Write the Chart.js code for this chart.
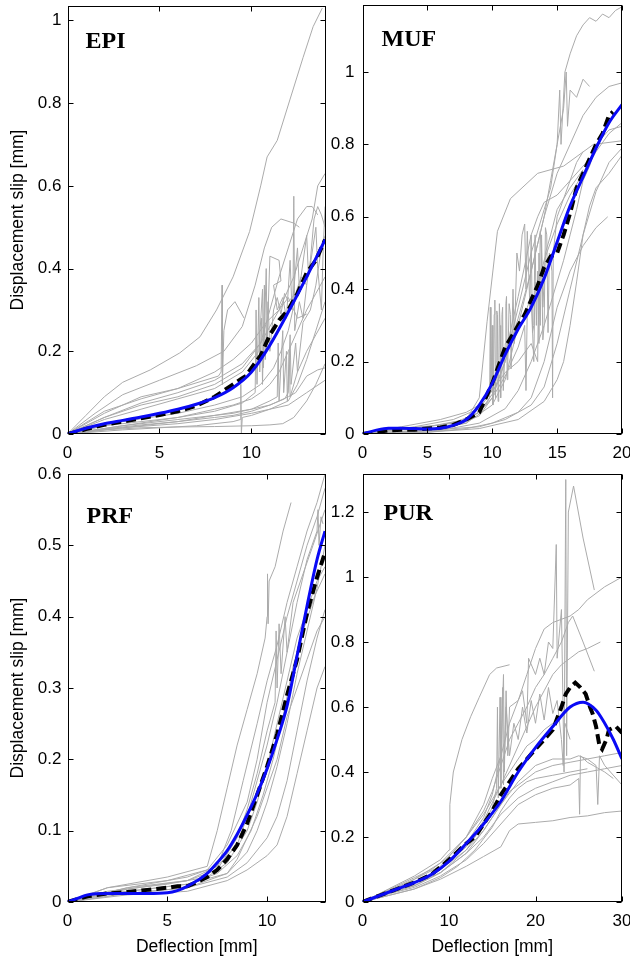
<!DOCTYPE html>
<html><head><meta charset="utf-8">
<script src="https://cdn.jsdelivr.net/npm/chart.js@4/dist/chart.umd.min.js"></script>
<style>
html,body{margin:0;padding:0;background:#fff;}
#wrap{position:relative;width:630px;height:962px;overflow:hidden;}
canvas{position:absolute;left:0;top:0;}
</style></head>
<body><div id="wrap">
<canvas id="c0" width="630" height="962"></canvas>
<canvas id="c1" width="630" height="962"></canvas>
<canvas id="c2" width="630" height="962"></canvas>
<canvas id="c3" width="630" height="962"></canvas>
</div>
<script>
// ---------------- DATA ----------------
const panelNames = ['EPI','MUF','PRF','PUR'];
const xTitle = 'Deflection [mm]';
const yTitle = 'Displacement slip [mm]';

const epiXTicks = [0,5,10];
const epiYTicks = [0,0.2,0.4,0.6,0.8,1];
const mufXTicks = [0,5,10,15,20];
const mufYTicks = [0,0.2,0.4,0.6,0.8,1];
const prfXTicks = [0,5,10];
const prfYTicks = [0,0.1,0.2,0.3,0.4,0.5,0.6];
const purXTicks = [0,10,20,30];
const purYTicks = [0,0.2,0.4,0.6,0.8,1,1.2];

// EPI specimens
const epi1 = [[0,0],[1,0.045],[2,0.09],[3,0.125],[4.5,0.155],[6.1,0.196],[7.2,0.235],[8.1,0.3],[9,0.38],[9.9,0.49],[10.5,0.6],[10.85,0.67],[11.4,0.71],[12.1,0.81],[12.8,0.91],[13.35,0.985],[13.85,1.03]];
const epi2 = [[0,0],[1.5,0.05],[3,0.095],[5,0.13],[7,0.165],[8.5,0.2],[9.5,0.26],[10.2,0.36],[10.7,0.45],[11.1,0.5],[11.6,0.52],[12.3,0.51],[12.6,0.5]];
const epi3 = [[0,0],[2,0.05],[4,0.09],[6,0.11],[8.2,0.14],[8.35,0.15],[8.4,0.36],[8.42,0.12],[8.5,0.25],[8.7,0.3],[9.1,0.32],[9.6,0.28]];
const epi4 = [[0,0],[2,0.04],[4,0.075],[6,0.1],[8,0.13],[9.5,0.17],[10.5,0.22],[11,0.3],[11.5,0.38],[12,0.45],[12.5,0.52],[13,0.55],[13.3,0.55],[13.6,0.53]];
const epi5 = [[0,0],[2,0.035],[4,0.06],[6,0.085],[8,0.11],[9.5,0.15],[10.4,0.2],[10.6,0.35],[10.65,0.16],[10.8,0.4],[10.85,0.22],[11,0.43],[11.5,0.42],[11.6,0.37],[11.2,0.36],[11.4,0.3],[11.7,0.33],[11.9,0.28],[12.1,0.42],[12.2,0.3],[12.5,0.45],[12.6,0.35],[13,0.48],[13.1,0.38],[13.5,0.5],[13.6,0.4],[13.8,0.3],[13.9,0.45],[14,0.55]];
const epi6 = [[0,0],[3,0.03],[6,0.05],[8,0.07],[9.5,0.09],[10.5,0.12],[11.2,0.16],[11.6,0.2],[12,0.25],[12.25,0.3],[12.3,0.575],[12.35,0.25],[12.6,0.32],[12.8,0.28],[13,0.36],[13.2,0.42],[13.4,0.52],[13.6,0.55],[13.8,0.53],[14,0.5]];
const epi7 = [[0,0],[3,0.02],[6,0.04],[8,0.055],[9.5,0.075],[10.2,0.1],[10.25,0.3],[10.3,0.12],[10.4,0.33],[10.45,0.15],[10.55,0.28],[10.6,0.12],[10.7,0.36],[10.75,0.18],[10.9,0.32],[11,0.2],[11.2,0.3],[11.4,0.33],[11.6,0.29],[11.8,0.34],[12,0.32],[12.4,0.34],[12.7,0.38],[13,0.36]];
const epi8 = [[0,0],[3,0.015],[6,0.03],[8,0.045],[10,0.06],[11,0.08],[11.4,0.09],[11.45,0.22],[11.5,0.08],[11.7,0.25],[11.75,0.1],[11.9,0.2],[11.95,0.08],[12.1,0.24],[12.15,0.12],[12.4,0.22],[12.5,0.15],[12.8,0.27],[13.2,0.3],[13.5,0.36],[13.8,0.45],[14,0.48]];
const epi9 = [[0,0],[3,0.015],[6,0.025],[8,0.035],[10,0.05],[11,0.06],[12,0.08],[12.5,0.12],[13,0.18],[13.5,0.25],[14,0.32]];
const epi10 = [[0,0],[2,0.01],[4,0.015],[6,0.017],[8,0.018],[10,0.02],[11,0.022],[11.7,0.025],[12.3,0.04],[13,0.08],[13.5,0.12],[14,0.17]];
const epi11 = [[0,0],[3,0.02],[6,0.035],[9,0.05],[11,0.07],[12,0.09],[12.4,0.1],[13,0.14],[13.6,0.155],[14,0.16]];
const epi12 = [[0,0],[3,0.01],[5,0.015],[7,0.02],[9,0.03],[9.4,0.035],[9.42,0.12],[9.45,0.0],[9.5,0.04],[10,0.045],[11,0.06],[12,0.07],[13,0.1],[14,0.13]];
const epi13 = [[0,0],[2,0.055],[4,0.085],[6,0.11],[8,0.15],[9,0.18],[10,0.22],[10.8,0.27],[11.5,0.3],[12,0.33],[12.5,0.28],[13,0.29]];
const epi14 = [[0,0],[2,0.04],[4,0.07],[6,0.09],[8,0.12],[9.5,0.16],[10.5,0.22],[11.5,0.3],[12.3,0.38],[12.8,0.45],[13.3,0.52],[13.6,0.6],[14,0.63]];
const epi15 = [[0,0],[2,0.012],[4,0.022],[6,0.03],[8,0.04],[9,0.045],[10,0.055],[11,0.07],[11.8,0.085],[12,0.1],[12.05,0.2],[12.1,0.09],[12.5,0.15],[13,0.2],[13.5,0.24],[14,0.28]];
const epi16 = [[0,0],[2,0.02],[4,0.03],[6,0.04],[7,0.05],[8,0.06],[9,0.07],[10,0.085],[10.5,0.1],[11,0.12],[11.5,0.15],[12,0.2],[12.5,0.25],[13,0.3],[13.5,0.34],[14,0.38]];
const epiMean = [[0,0],[0.5,0.005],[1,0.012],[2,0.022],[3,0.03],[4,0.038],[5,0.046],[6,0.055],[7,0.068],[8,0.09],[8.5,0.105],[9,0.12],[9.5,0.135],[9.7,0.14],[10,0.16],[10.5,0.19],[11,0.24],[11.5,0.275],[12,0.3],[12.5,0.34],[13,0.39],[13.5,0.42],[14,0.47]];
const epiFit = [[0,0],[1,0.014],[2,0.025],[3,0.033],[4,0.041],[5,0.05],[6,0.06],[7,0.072],[8,0.088],[9,0.112],[10,0.15],[11,0.215],[12,0.295],[13,0.38],[14,0.47]];

// MUF specimens
const muf1 = [[0,0],[4,0.01],[7,0.02],[9,0.05],[10,0.1],[11,0.2],[12,0.35],[13,0.5],[14,0.62],[14.5,0.68],[15,0.8],[15.2,0.95],[15.3,0.8],[15.6,1.0],[16,1.05],[16.5,1.1],[17,1.13],[17.5,1.15],[18,1.14],[18.5,1.16],[19,1.15],[19.5,1.17],[20,1.18]];
const muf2 = [[0,0],[5,0.01],[8,0.03],[10,0.08],[11,0.15],[12,0.3],[13,0.45],[14,0.6],[15,0.72],[16,0.8],[17,0.88],[18,0.93],[19,0.96],[20,0.97]];
const muf3 = [[0,0],[5,0.02],[8,0.04],[9,0.1],[9.6,0.31],[10.4,0.56],[11.4,0.65],[13.5,0.72],[15.5,0.74],[17.8,0.8],[20,0.81]];
const muf4 = [[0,0],[5,0.005],[8,0.015],[10,0.03],[12,0.06],[13,0.1],[14,0.2],[15,0.35],[16,0.45],[17,0.52],[18,0.57],[18.9,0.6]];
const muf5 = [[0,0],[5,0.01],[9,0.02],[11,0.04],[13,0.08],[14,0.13],[15,0.25],[16,0.4],[17,0.55],[18,0.67],[19,0.75],[20,0.79]];
const muf6 = [[0,0],[5,0.005],[9,0.015],[12,0.04],[14,0.09],[15,0.15],[15.5,0.2],[16,0.3],[16.5,0.42],[17,0.55],[17.5,0.63],[18,0.68],[19,0.72],[20,0.77]];
const muf7 = [[0,0],[5,0.01],[8,0.03],[9.5,0.08],[9.8,0.1],[9.85,0.35],[9.9,0.12],[10,0.3],[10.05,0.08],[10.1,0.15],[10.15,0.33],[10.2,0.37],[10.25,0.1],[10.3,0.2],[10.35,0.34],[10.4,0.33],[10.45,0.09],[10.5,0.15],[10.55,0.36],[10.6,0.3],[10.65,0.1],[10.7,0.22],[10.75,0.33],[10.8,0.35],[10.85,0.12],[11,0.25],[11.05,0.36],[11.1,0.38],[11.15,0.15],[11.2,0.2],[11.3,0.36],[11.4,0.33],[11.45,0.18],[11.6,0.4],[11.7,0.25],[11.9,0.5],[12.1,0.45],[12.3,0.55],[12.5,0.58],[12.6,0.4],[12.7,0.56],[12.9,0.35],[13,0.55],[13.1,0.28],[13.2,0.3],[13.3,0.55],[13.4,0.3],[13.5,0.45],[13.6,0.25],[13.7,0.56],[13.8,0.5],[13.9,0.26],[14,0.3],[14.1,0.57],[14.2,0.55],[14.3,0.28],[14.4,0.5],[14.6,0.45],[14.65,0.1],[14.7,0.5],[15,0.6],[15.5,0.65],[16,0.7],[16.5,0.75],[17,0.78]];
const muf8 = [[0,0],[5,0.02],[7,0.03],[9,0.06],[10,0.11],[11,0.2],[12,0.32],[13,0.45],[14,0.6],[14.5,0.7],[15,0.8],[15.5,0.9],[15.7,1.0],[15.8,0.85],[16,0.95],[16.5,0.93],[17,0.98],[17.5,0.96]];
const muf9 = [[0,0],[4,0.02],[7,0.04],[9,0.07],[10,0.12],[11,0.22],[12,0.38],[13,0.55],[13.5,0.6],[14,0.64],[15,0.66],[16,0.7],[17,0.74],[18,0.78]];
const muf10 = [[0,0],[6,0.01],[9,0.03],[11,0.07],[12,0.12],[13,0.2],[14,0.3],[15,0.42],[15.5,0.48],[16,0.55],[16.5,0.62],[17,0.7],[17.5,0.74],[18,0.8],[19,0.84],[20,0.85]];
const muf11 = [[0,0],[3,0.02],[6,0.04],[8,0.06],[9,0.08],[10,0.12],[11,0.17],[12,0.2],[13,0.25],[13.5,0.2],[13.6,0.5],[13.7,0.3],[13.8,0.55],[13.9,0.35],[14.1,0.5],[14.5,0.55],[15,0.62],[16,0.68],[17,0.73]];
const muf12 = [[0,0],[3,0.015],[6,0.025],[8,0.04],[9,0.06],[10,0.1],[11,0.16],[12,0.24],[12.5,0.3],[12.6,0.12],[12.7,0.35],[13,0.38],[13.2,0.2],[13.3,0.42],[13.5,0.4],[14,0.48],[15,0.58],[16,0.66],[17,0.72],[18,0.78],[19,0.83],[20,0.86]];
const mufMean = [[0,0],[1,0.005],[2,0.01],[3,0.012],[4,0.012],[5,0.015],[6,0.018],[7,0.025],[8,0.04],[9,0.06],[10,0.14],[10.5,0.19],[11,0.24],[11.5,0.27],[12,0.3],[12.5,0.33],[13,0.37],[13.5,0.41],[14,0.46],[14.5,0.49],[15,0.5],[15.5,0.55],[16,0.61],[16.5,0.68],[17,0.72],[17.5,0.76],[18,0.8],[18.5,0.83],[19,0.88],[19.3,0.89]];
const mufFit = [[0,0],[1,0.01],[2,0.016],[3,0.016],[4,0.015],[5,0.014],[6,0.016],[7,0.024],[8,0.04],[9,0.08],[10,0.14],[11,0.22],[12,0.29],[13,0.35],[14,0.43],[15,0.53],[16,0.63],[17,0.71],[18,0.79],[19,0.86],[20,0.91]];

// PRF specimens
const prf1 = [[0,0],[2,0.02],[5,0.035],[7,0.05],[7.5,0.1],[8,0.16],[8.5,0.22],[9,0.27],[9.5,0.32],[9.9,0.37],[10,0.4],[10.02,0.46],[10.05,0.39],[10.1,0.45],[10.4,0.47],[10.8,0.52],[11.2,0.56]];
const prf2 = [[0,0],[2,0.02],[5,0.03],[7,0.045],[8,0.08],[9,0.14],[9.5,0.2],[10,0.28],[10.5,0.34],[11,0.4],[11.5,0.45],[12,0.5],[12.5,0.54],[12.9,0.58]];
const prf3 = [[0,0],[3,0.02],[6,0.03],[7.5,0.05],[8.5,0.08],[9,0.12],[9.5,0.17],[10,0.22],[10.5,0.28],[11,0.35],[11.5,0.42],[12,0.48],[12.5,0.52],[12.55,0.55],[12.6,0.5],[12.7,0.54],[12.8,0.53]];
const prf4 = [[0,0],[3,0.015],[6,0.025],[8,0.04],[9,0.07],[9.5,0.1],[10,0.14],[10.5,0.19],[11,0.25],[11.5,0.32],[12,0.38],[12.5,0.44],[12.9,0.5]];
const prf5 = [[0,0],[3,0.012],[6,0.02],[8,0.035],[9,0.055],[10,0.09],[10.5,0.12],[11,0.17],[11.5,0.24],[12,0.31],[12.5,0.37],[12.9,0.41]];
const prf6 = [[0,0],[3,0.01],[6,0.015],[8,0.03],[9,0.045],[10,0.065],[10.5,0.08],[11,0.12],[11.5,0.18],[12,0.24],[12.5,0.3],[12.9,0.33]];
const prf7 = [[0,0],[3,0.018],[6,0.03],[7.5,0.045],[8.5,0.09],[9,0.13],[9.5,0.18],[10,0.24],[10.4,0.28],[10.45,0.38],[10.5,0.3],[10.6,0.39],[10.7,0.32],[10.9,0.4],[11,0.35],[11.3,0.42],[11.8,0.46],[12.3,0.5],[12.9,0.55]];
const prf8 = [[0,0],[2,0.015],[5,0.025],[7,0.035],[8,0.055],[9,0.1],[9.5,0.14],[10,0.19],[10.5,0.25],[11,0.31],[11.5,0.37],[12,0.41],[12.5,0.45],[12.9,0.47]];
const prf9 = [[0,0],[3,0.012],[6,0.02],[8,0.04],[8.5,0.06],[9,0.09],[9.5,0.12],[10,0.16],[10.5,0.2],[11,0.26],[11.5,0.3],[12,0.34],[12.5,0.38],[12.9,0.4]];
const prf10 = [[0,0],[3,0.02],[6,0.035],[7.5,0.05],[8.2,0.1],[8.8,0.17],[9.5,0.25],[10,0.31],[10.5,0.36],[11,0.42],[11.5,0.47],[12,0.52],[12.5,0.56],[12.9,0.6]];
const prf11 = [[0,0],[2,0.012],[4,0.018],[6,0.025],[7.5,0.04],[8.5,0.065],[9.2,0.1],[9.8,0.15],[10.3,0.2],[10.8,0.26],[11.3,0.33],[11.8,0.38],[12.4,0.43],[12.9,0.46]];
const prfMean = [[0,0],[1,0.008],[2,0.012],[3,0.014],[4,0.017],[5,0.02],[5.5,0.022],[6,0.022],[6.5,0.028],[7,0.035],[7.5,0.045],[8,0.06],[8.5,0.08],[9,0.11],[9.5,0.15],[10,0.19],[10.5,0.235],[11,0.29],[11.5,0.34],[12,0.405],[12.5,0.455],[12.9,0.49]];
const prfFit = [[0,0],[0.5,0.005],[1,0.01],[2,0.012],[3,0.012],[4,0.012],[5,0.013],[5.5,0.016],[6,0.022],[6.5,0.03],[7,0.04],[7.5,0.055],[8,0.072],[8.5,0.095],[9,0.122],[9.5,0.152],[10,0.187],[10.5,0.228],[11,0.275],[11.5,0.345],[12,0.415],[12.5,0.48],[12.9,0.52]];

// PUR specimens
const pur1 = [[0,0],[3,0.04],[6,0.08],[9,0.13],[10,0.16],[10.1,0.3],[10.5,0.4],[11.5,0.5],[12.5,0.57],[13.5,0.63],[14.7,0.7],[15.5,0.72],[17,0.73]];
const pur2 = [[0,0],[3,0.03],[6,0.07],[9,0.11],[12,0.2],[14,0.3],[15,0.38],[16,0.45],[16.3,0.7],[16.4,0.4],[16.6,0.65],[16.8,0.45],[17,0.6],[18,0.62],[18.5,0.65],[19,0.55],[19.2,0.75],[20,0.7],[20.5,0.75],[21,0.7],[21.5,0.8],[22,0.78],[22.4,1.1],[22.5,0.75],[23,0.9],[23.3,0.4],[23.5,1.3],[23.6,0.45],[23.8,1.2],[24.4,1.28],[25.5,1.12],[26.8,0.96]];
const pur3 = [[0,0],[3,0.03],[6,0.06],[9,0.1],[12,0.18],[14,0.26],[15,0.33],[16,0.45],[17,0.55],[18,0.62],[19,0.7],[20,0.78],[21,0.84],[22,0.86],[23,0.87],[24,0.88],[25,0.9],[26,0.93],[28,0.97],[30,1.0]];
const pur4 = [[0,0],[3,0.03],[6,0.06],[9,0.1],[12,0.17],[14,0.25],[16,0.36],[18,0.48],[20,0.6],[21,0.65],[22,0.7],[23,0.73],[24,0.75],[25,0.77],[26,0.78],[27.5,0.8]];
const pur5 = [[0,0],[3,0.02],[6,0.04],[9,0.07],[12,0.11],[14,0.14],[16,0.17],[17,0.22],[18,0.24],[20,0.245],[22,0.25],[24,0.26],[26,0.265],[28,0.275],[30,0.28]];
const pur6 = [[0,0],[3,0.025],[6,0.05],[9,0.09],[12,0.15],[14,0.2],[16,0.27],[18,0.32],[20,0.35],[22,0.37],[24,0.39],[26,0.4],[28,0.41],[30,0.42]];
const pur7 = [[0,0],[3,0.03],[6,0.06],[9,0.1],[12,0.16],[14,0.22],[16,0.3],[17,0.34],[18,0.36],[20,0.4],[22,0.42],[24,0.43],[26,0.44],[28,0.45],[30,0.46]];
const pur8 = [[0,0],[3,0.03],[6,0.05],[9,0.09],[12,0.15],[14,0.22],[16,0.3],[18,0.37],[20,0.42],[22,0.44],[24,0.44],[25,0.45],[26,0.44],[27,0.42],[27.2,0.3],[27.4,0.45],[28,0.42],[30,0.36]];
const pur9 = [[0,0],[3,0.03],[6,0.05],[9,0.09],[12,0.16],[14,0.24],[15,0.29],[15.5,0.35],[15.6,0.6],[15.7,0.32],[15.9,0.63],[16,0.35],[16.2,0.66],[16.3,0.36],[16.6,0.6],[17,0.45],[17.5,0.55],[18,0.5],[18.5,0.6],[19,0.52],[19.5,0.62],[20,0.55],[20.5,0.64],[21,0.56],[21.5,0.66],[22,0.58],[22.5,0.62],[23,0.5],[23.2,0.42],[23.4,0.55],[24,0.5]];
const pur10 = [[0,0],[3,0.035],[6,0.07],[9,0.12],[12,0.2],[14,0.28],[15,0.34],[16,0.42],[17,0.5],[18,0.55],[19,0.6],[20,0.66],[21,0.7],[22,0.75],[23,0.8],[23.8,0.86],[24.3,0.88],[25.5,0.8],[26.8,0.71]];
const pur11 = [[0,0],[3,0.025],[6,0.045],[9,0.08],[12,0.13],[14,0.18],[16,0.24],[18,0.3],[20,0.33],[22,0.35],[24,0.36],[25,0.38],[25.1,0.27],[25.2,0.45],[26,0.43],[28,0.4],[29,0.38]];
const pur12 = [[0,0],[3,0.02],[6,0.04],[9,0.075],[11,0.11],[13,0.16],[15,0.23],[16,0.28],[17,0.32],[18,0.35],[19,0.37],[20,0.38],[22,0.39],[24,0.4],[26,0.41]];
const pur13 = [[0,0],[2,0.025],[4,0.05],[6,0.075],[8,0.1],[10,0.14],[12,0.2],[14,0.27],[16,0.36],[17,0.4],[18,0.44],[19,0.48],[20,0.5],[21,0.53],[22,0.55]];
const purMean = [[0,0],[2,0.02],[4,0.04],[6,0.06],[8,0.085],[10,0.13],[12,0.18],[13,0.2],[14,0.24],[15,0.28],[16,0.33],[17,0.37],[18,0.41],[19,0.44],[20,0.47],[21,0.5],[22,0.53],[23,0.6],[23.5,0.64],[24,0.66],[24.6,0.675],[25.2,0.66],[25.8,0.64],[26.3,0.6],[26.6,0.58],[27,0.54],[27.4,0.48],[27.7,0.47],[28.2,0.5],[28.5,0.53],[29.3,0.54],[30,0.52]];
const purFit = [[0,0],[2,0.02],[4,0.04],[6,0.06],[8,0.085],[10,0.125],[12,0.18],[14,0.24],[16,0.31],[18,0.4],[20,0.475],[22,0.54],[24,0.6],[25.5,0.615],[27,0.59],[28,0.55],[29,0.5],[30,0.44]];

// ---------------- PANELS ----------------
const panels = [
  {name: panelNames[0], gray:[epi1,epi2,epi3,epi4,epi5,epi6,epi7,epi8,epi9,epi10,epi11,epi12,epi13,epi14,epi15,epi16], mean:epiMean, fit:epiFit,
   xmax:14.05, ymax:1.035, xt:epiXTicks, yt:epiYTicks, area:{l:67.5,t:6,r:326,b:434}, yTitle:true, xTitle:false, lab:[18,42], ypad:6},
  {name: panelNames[1], gray:[muf1,muf2,muf3,muf4,muf5,muf6,muf7,muf8,muf9,muf10,muf11,muf12], mean:mufMean, fit:mufFit,
   xmax:20, ymax:1.185, xt:mufXTicks, yt:mufYTicks, area:{l:362.5,t:5,r:622,b:434}, yTitle:false, xTitle:false, lab:[19,41], ypad:8},
  {name: panelNames[2], gray:[prf1,prf2,prf3,prf4,prf5,prf6,prf7,prf8,prf9,prf10,prf11], mean:prfMean, fit:prfFit,
   xmax:12.95, ymax:0.6, xt:prfXTicks, yt:prfYTicks, area:{l:67.5,t:474,r:326,b:902}, yTitle:true, xTitle:true, lab:[19,49], ypad:6},
  {name: panelNames[3], gray:[pur1,pur2,pur3,pur4,pur5,pur6,pur7,pur8,pur9,pur10,pur11,pur12,pur13], mean:purMean, fit:purFit,
   xmax:30, ymax:1.317, xt:purXTicks, yt:purYTicks, area:{l:362.5,t:474,r:622,b:902}, yTitle:false, xTitle:true, lab:[21,46], ypad:8}
];

const toXY = arr => arr.map(p => ({x:p[0], y:p[1]}));
const fmt = v => String(+(+v).toFixed(2));
const tickFont = {family:'"Liberation Sans", Arial, sans-serif', size:17};
const titleFont = {family:'"Liberation Sans", Arial, sans-serif', size:17.5};
const W = 630, H = 962, YW = 60;

const boxPlugin = {
  id:'box',
  afterDraw(chart, args, opts) {
    const ctx = chart.ctx, a = chart.chartArea;
    const xs = chart.scales.x, ys = chart.scales.y;
    ctx.save();
    ctx.strokeStyle = '#000'; ctx.lineWidth = 1;
    const L = Math.round(a.left)+0.5, R = Math.round(a.right)-0.5, T = Math.round(a.top)+0.5, B = Math.round(a.bottom)-0.5;
    ctx.strokeRect(L, T, R-L, B-T);
    const tl = 5;
    ctx.beginPath();
    for (const t of xs.ticks) {
      const px = Math.round(xs.getPixelForValue(t.value))+0.5;
      ctx.moveTo(px, B); ctx.lineTo(px, B-tl);
      ctx.moveTo(px, T); ctx.lineTo(px, T+tl);
    }
    for (const t of ys.ticks) {
      const py = Math.round(ys.getPixelForValue(t.value))+0.5;
      ctx.moveTo(L, py); ctx.lineTo(L+tl, py);
      ctx.moveTo(R, py); ctx.lineTo(R-tl, py);
    }
    ctx.stroke();
    ctx.fillStyle = '#000';
    ctx.font = 'bold 24px "Liberation Serif", "Times New Roman", serif';
    ctx.textBaseline = 'alphabetic';
    ctx.fillText(opts.text, a.left + opts.dx, a.top + opts.dy);
    ctx.restore();
  }
};

panels.forEach((p, i) => {
  const xH = p.xTitle ? 56 : 30;
  const datasets = [];
  datasets.push({data: toXY(p.fit), borderColor:'#0a0af5', borderWidth:3, pointRadius:0, tension:0.4, cubicInterpolationMode:'monotone'});
  datasets.push({data: toXY(p.mean), borderColor:'#000', borderWidth:4, borderDash:[10,5], pointRadius:0, tension:0});
  p.gray.forEach(g => datasets.push({data: toXY(g), borderColor:'#ababab', borderWidth:1, pointRadius:0, tension:0}));
  new Chart(document.getElementById('c'+i), {
    type:'line',
    data:{datasets},
    options:{
      responsive:false, animation:false, devicePixelRatio:1,
      events:[],
      layout:{padding:{left:p.area.l - YW, top:p.area.t, right:W - p.area.r, bottom:H - p.area.b - xH}},
      plugins:{legend:{display:false}, tooltip:{enabled:false}, box:{text:p.name, dx:p.lab[0], dy:p.lab[1]}},
      scales:{
        x:{type:'linear', min:0, max:p.xmax,
           afterBuildTicks: s => { s.ticks = p.xt.map(v => ({value:v})); },
           afterFit: s => { s.height = xH; s.paddingLeft = 0; s.paddingRight = 0; },
           grid:{display:false, drawTicks:false, tickLength:0}, border:{display:false},
           ticks:{font:tickFont, color:'#000', padding:9, maxRotation:0, autoSkip:false, callback: v => fmt(v)},
           title:{display:p.xTitle, text:xTitle, font:titleFont, color:'#000', padding:0}},
        y:{type:'linear', min:0, max:p.ymax,
           afterBuildTicks: s => { s.ticks = p.yt.map(v => ({value:v})); },
           afterFit: s => { s.width = YW; s.paddingTop = 0; s.paddingBottom = 0; },
           grid:{display:false, drawTicks:false, tickLength:0}, border:{display:false},
           ticks:{font:tickFont, color:'#000', padding:p.ypad, autoSkip:false, callback: v => fmt(v)},
           title:{display:p.yTitle, text:yTitle, font:titleFont, color:'#000', padding:0}}
      }
    },
    plugins:[boxPlugin]
  });
});
</script>
</body></html>
